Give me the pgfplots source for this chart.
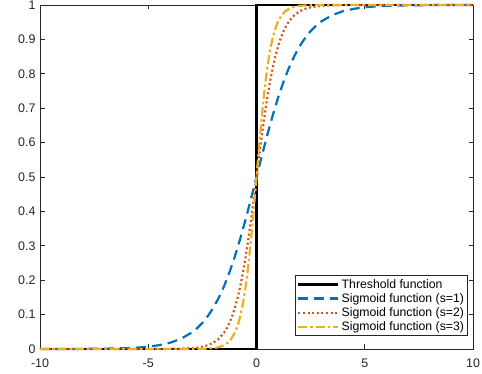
\documentclass[border=0pt]{standalone}
\usepackage{pgfplots}
\pgfplotsset{compat=1.18}
\usepackage{fontspec}
\setmainfont{Liberation Sans}
\definecolor{mblue}{rgb}{0,0.447,0.741}
\definecolor{morange}{rgb}{0.85,0.325,0.098}
\definecolor{myellow}{rgb}{0.929,0.694,0.125}
\definecolor{axgray}{rgb}{0.15,0.15,0.15}
\begin{document}
\begin{tikzpicture}
\useasboundingbox (0,0) rectangle (482bp,374bp);
\begin{axis}[
  at={(40bp,25bp)}, anchor=south west,
  scale only axis, width=433bp, height=344bp,
  xmin=-10, xmax=10, ymin=0, ymax=1,
  xtick={-10,-5,0,5,10},
  ytick={0,0.1,0.2,0.3,0.4,0.5,0.6,0.7,0.8,0.9,1},
  tick align=inside,
  major tick length=4.5bp,
  axis line style={axgray, line width=0.7bp},
  every tick/.style={axgray, line width=0.7bp},
  tick label style={font=\fontsize{12.5}{14}\selectfont, text=axgray},
  xticklabel style={yshift=-6.5bp},
  yticklabel style={xshift=-1bp},
  /pgf/number format/assume math mode=true,
  /pgf/number format/fixed,
  legend style={at={(0.988,0.038)}, anchor=south east, draw=axgray, line width=0.7bp,
    font=\fontsize{12.3}{16.5}\selectfont, inner sep=1.5bp, row sep=-0.2bp,
    cells={anchor=west}},
  legend image code/.code={\draw[#1] (0bp,0bp) -- (40bp,0bp);},
  clip=false,
]
\addplot[black, line width=2.8bp] coordinates {(-10,0)(0,0)(0,1)(10,1)};
\addlegendentry{Threshold function}
\addplot[mblue, line width=2.2bp, dash pattern=on 10bp off 6bp] coordinates {
(-10,0.000045)(-9,0.000123)(-8,0.000335)(-7,0.000911)(-6,0.002473)(-5.5,0.004070)(-5,0.006693)(-4.5,0.011099)(-4,0.017986)(-3.5,0.029312)(-3,0.047426)(-2.75,0.060087)(-2.5,0.075858)(-2.25,0.095349)(-2,0.119203)(-1.75,0.148047)(-1.5,0.182426)(-1.25,0.222700)(-1,0.268941)(-0.75,0.320821)(-0.5,0.377541)(-0.25,0.437823)(0,0.5)
(0.25,0.562177)(0.5,0.622459)(0.75,0.679179)(1,0.731059)(1.25,0.777300)(1.5,0.817574)(1.75,0.851953)(2,0.880797)(2.25,0.904651)(2.5,0.924142)(2.75,0.939913)(3,0.952574)(3.5,0.970688)(4,0.982014)(4.5,0.988901)(5,0.993307)(5.5,0.995930)(6,0.997527)(7,0.999089)(8,0.999665)(9,0.999877)(10,0.999955)};
\addlegendentry{Sigmoid function (s=1)}
\addplot[morange, line width=2.2bp, dash pattern=on 2bp off 2.6bp] coordinates {
(-10,0)(-6,0.000006)(-5,0.000045)(-4.5,0.000123)(-4,0.000335)(-3.5,0.000911)(-3,0.002473)(-2.75,0.004070)(-2.5,0.006693)(-2.25,0.011099)(-2,0.017986)(-1.75,0.029312)(-1.5,0.047426)(-1.375,0.060087)(-1.25,0.075858)(-1.125,0.095349)(-1,0.119203)(-0.875,0.148047)(-0.75,0.182426)(-0.625,0.222700)(-0.5,0.268941)(-0.375,0.320821)(-0.25,0.377541)(-0.125,0.437823)(0,0.5)
(0.125,0.562177)(0.25,0.622459)(0.375,0.679179)(0.5,0.731059)(0.625,0.777300)(0.75,0.817574)(0.875,0.851953)(1,0.880797)(1.125,0.904651)(1.25,0.924142)(1.375,0.939913)(1.5,0.952574)(1.75,0.970688)(2,0.982014)(2.25,0.988901)(2.5,0.993307)(2.75,0.995930)(3,0.997527)(3.5,0.999089)(4,0.999665)(4.5,0.999877)(5,0.999955)(6,0.999994)(10,1)};
\addlegendentry{Sigmoid function (s=2)}
\addplot[myellow, line width=2.2bp, dash pattern=on 9bp off 3bp on 2.5bp off 3bp] coordinates {
(-10,0)(-4,0.000006)(-3.3333,0.000045)(-3,0.000123)(-2.6667,0.000335)(-2.3333,0.000911)(-2,0.002473)(-1.8333,0.004070)(-1.6667,0.006693)(-1.5,0.011099)(-1.3333,0.017986)(-1.1667,0.029312)(-1,0.047426)(-0.9167,0.060087)(-0.8333,0.075858)(-0.75,0.095349)(-0.6667,0.119203)(-0.5833,0.148047)(-0.5,0.182426)(-0.4167,0.222700)(-0.3333,0.268941)(-0.25,0.320821)(-0.1667,0.377541)(-0.0833,0.437823)(0,0.5)
(0.0833,0.562177)(0.1667,0.622459)(0.25,0.679179)(0.3333,0.731059)(0.4167,0.777300)(0.5,0.817574)(0.5833,0.851953)(0.6667,0.880797)(0.75,0.904651)(0.8333,0.924142)(0.9167,0.939913)(1,0.952574)(1.1667,0.970688)(1.3333,0.982014)(1.5,0.988901)(1.6667,0.993307)(1.8333,0.995930)(2,0.997527)(2.3333,0.999089)(2.6667,0.999665)(3,0.999877)(3.3333,0.999955)(4,0.999994)(10,1)};
\addlegendentry{Sigmoid function (s=3)}
\end{axis}
\end{tikzpicture}
\end{document}
